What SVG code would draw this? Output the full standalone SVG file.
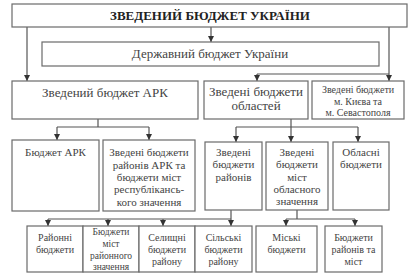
<svg xmlns="http://www.w3.org/2000/svg" width="417" height="278" viewBox="0 0 417 278" font-family="Liberation Serif, DejaVu Serif, serif">
<defs>
<marker id="arr" viewBox="0 0 6 6" refX="6" refY="3" markerWidth="6" markerHeight="6" orient="auto" markerUnits="userSpaceOnUse">
<path d="M0,0 L6,3 L0,6 z" fill="#333"/>
</marker>
<style>
rect{fill:#fff;stroke:#6a6a6a;stroke-width:1.2}
text{fill:#444;text-anchor:middle}
.t{font-weight:bold;font-size:13px;fill:#222}
.l{font-size:13px}
.m{font-size:11px}
.s{font-size:10px}
.xs{font-size:9.5px}
.c line,.c path{stroke:#555;stroke-width:1.2;fill:none}
</style>
</defs>
<rect x="0" y="0" width="417" height="278" style="fill:#fff;stroke:none"/>
<g class="c" id="connectors">
<line x1="211" y1="27" x2="211" y2="42" marker-end="url(#arr)"/>
<line x1="27" y1="27" x2="27" y2="81" marker-end="url(#arr)"/>
<line x1="389" y1="27" x2="389" y2="81" marker-end="url(#arr)"/>
<path d="M389,74 H257"/>
<line x1="257" y1="74" x2="257" y2="81" marker-end="url(#arr)"/>
<path d="M98,119 V127 M57,127 H149"/>
<line x1="57" y1="127" x2="57" y2="140" marker-end="url(#arr)"/>
<line x1="149" y1="127" x2="149" y2="140" marker-end="url(#arr)"/>
<path d="M236,127 H358"/>
<line x1="291" y1="119" x2="291" y2="142" marker-end="url(#arr)"/>
<line x1="236" y1="127" x2="236" y2="142" marker-end="url(#arr)"/>
<line x1="358" y1="127" x2="358" y2="142" marker-end="url(#arr)"/>
<path d="M48,219 H231"/>
<line x1="231" y1="210" x2="231" y2="226" marker-end="url(#arr)"/>
<line x1="48" y1="219" x2="48" y2="226" marker-end="url(#arr)"/>
<line x1="108" y1="219" x2="108" y2="226" marker-end="url(#arr)"/>
<line x1="163" y1="219" x2="163" y2="226" marker-end="url(#arr)"/>
<path d="M297,210 V219 M286,219 H355"/>
<line x1="286" y1="219" x2="286" y2="226" marker-end="url(#arr)"/>
<line x1="355" y1="219" x2="355" y2="226" marker-end="url(#arr)"/>
</g>
<g id="n-zved"><rect x="12" y="4" width="395" height="23"/><text class="t" x="210" y="20">ЗВЕДЕНИЙ БЮДЖЕТ УКРАЇНИ</text></g>
<g id="n-derzh"><rect x="42" y="42" width="337" height="24"/><text class="l" x="210" y="58">Державний бюджет України</text></g>
<g id="n-ark"><rect x="12" y="81" width="186" height="38"/><text class="l" x="105" y="97">Зведений бюджет АРК</text></g>
<g id="n-obl"><rect x="204" y="81" width="104" height="38"/><text class="l" x="256" y="96">Зведені бюджети</text><text class="l" x="256" y="110">областей</text></g>
<g id="n-kyiv"><rect x="312" y="81" width="92" height="38"/><text class="s" x="358" y="93">Зведені бюджети</text><text class="s" x="358" y="105">м. Києва та</text><text class="s" x="358" y="116">м. Севастополя</text></g>
<g id="n-bark"><rect x="12" y="140" width="87" height="71"/><text class="m" x="55.5" y="156">Бюджет АРК</text></g>
<g id="n-rark"><rect x="103" y="140" width="92" height="71"/><text class="m" x="149" y="156">Зведені бюджети</text><text class="m" x="149" y="169">районів АРК та</text><text class="m" x="149" y="181">бюджети міст</text><text class="m" x="149" y="193">республікансь-</text><text class="m" x="149" y="206">кого значення</text></g>
<g id="n-zrai"><rect x="205" y="142" width="57" height="68"/><text class="m" x="233.5" y="156">Зведені</text><text class="m" x="233.5" y="168">бюджети</text><text class="m" x="233.5" y="181">районів</text></g>
<g id="n-zmist"><rect x="266" y="142" width="62" height="68"/><text class="m" x="297" y="156">Зведені</text><text class="m" x="297" y="168">бюджети</text><text class="m" x="297" y="181">міст</text><text class="m" x="297" y="193">обласного</text><text class="m" x="297" y="205">значення</text></g>
<g id="n-oblb"><rect x="333" y="142" width="56" height="68"/><text class="m" x="361" y="156">Обласні</text><text class="m" x="361" y="168">бюджети</text></g>
<g id="n-raion"><rect x="27" y="226" width="56" height="46"/><text class="s" x="55" y="241">Районні</text><text class="s" x="55" y="253">бюджети</text></g>
<g id="n-mistr"><rect x="83" y="226" width="56" height="46"/><text class="xs" x="111" y="235">Бюджети</text><text class="xs" x="111" y="247">міст</text><text class="xs" x="111" y="259">районного</text><text class="xs" x="111" y="270">значення</text></g>
<g id="n-sel"><rect x="139" y="226" width="56" height="46"/><text class="s" x="167" y="241">Селищні</text><text class="s" x="167" y="253">бюджети</text><text class="s" x="167" y="265">району</text></g>
<g id="n-sil"><rect x="195" y="226" width="57" height="46"/><text class="s" x="223.5" y="241">Сільські</text><text class="s" x="223.5" y="253">бюджети</text><text class="s" x="223.5" y="265">району</text></g>
<g id="n-misk"><rect x="256" y="226" width="61" height="46"/><text class="s" x="286.5" y="241">Міські</text><text class="s" x="286.5" y="253">бюджети</text></g>
<g id="n-rm"><rect x="325" y="226" width="57" height="46"/><text class="s" x="353.5" y="241">Бюджети</text><text class="s" x="353.5" y="253">районів та</text><text class="s" x="353.5" y="265">міст</text></g>
</svg>
